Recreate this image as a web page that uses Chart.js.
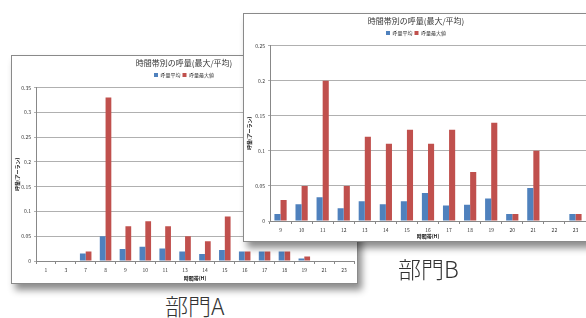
<!DOCTYPE html>
<html>
<head>
<meta charset="utf-8">
<script src="https://cdn.jsdelivr.net/npm/chart.js@4"></script>
<style>
  html, body { margin: 0; padding: 0; background: #fff; }
  body { width: 586px; height: 318px; position: relative; overflow: hidden;
         font-family: "Noto Sans CJK JP", "Noto Sans", sans-serif; }
  .panel { position: absolute; background: #fff; border: 1px solid #8a8a8a;
           box-shadow: 4px 6px 7px rgba(0,0,0,.45); }
  #panelA { left: 11px; top: 55px; width: 345px; height: 227px; }
  #panelB { left: 243px; top: 13px; width: 350px; height: 227px; }
  .panel canvas { display: block; }
  .caption { position: absolute; font-size: 23px; line-height: 1; color: #333; font-weight: 300; }
  #capA { left: 165px; top: 294px; }
  #capB { left: 398px; top: 257px; }
</style>
</head>
<body>
<div class="panel" id="panelA"><canvas id="chartA" width="345" height="227"></canvas></div>
<div class="panel" id="panelB"><canvas id="chartB" width="350" height="227"></canvas></div>
<div class="caption" id="capA">部門A</div>
<div class="caption" id="capB">部門B</div>
<script>
const title = '時間帯別の呼量(最大/平均)';
const seriesNames = ['呼量平均', '呼量最大値'];

// 部門A
const hoursA = ['1', '3', '7', '8', '9', '10', '11', '13', '14', '15', '16', '17', '18', '19', '21', '23'];
const avgA = [0, 0, 0.015, 0.05, 0.024, 0.029, 0.025, 0.019, 0.014, 0.022, 0.019, 0.019, 0.019, 0.005, 0, 0];
const maxA = [0, 0, 0.019, 0.33, 0.07, 0.08, 0.07, 0.05, 0.04, 0.09, 0.019, 0.019, 0.019, 0.009, 0, 0];

// 部門B
const hoursB = ['9', '10', '11', '12', '13', '14', '15', '16', '17', '18', '19', '20', '21', '22', '23'];
const avgB = [0.01, 0.024, 0.034, 0.018, 0.028, 0.024, 0.028, 0.04, 0.022, 0.023, 0.032, 0.01, 0.047, 0, 0.01];
const maxB = [0.03, 0.05, 0.2, 0.05, 0.12, 0.11, 0.13, 0.11, 0.13, 0.07, 0.14, 0.01, 0.1, 0, 0.01];

const BLUE = '#4f81bd', RED = '#c0504d';
const font = '"Noto Sans CJK JP", "Noto Sans", sans-serif';

function makeChart(id, labels, avg, max, yMax, yWidth, xHeight, padRight) {
  const ctx = document.getElementById(id).getContext('2d');
  return new Chart(ctx, {
    type: 'bar',
    data: {
      labels,
      datasets: [
        { label: seriesNames[0], data: avg, backgroundColor: BLUE },
        { label: seriesNames[1], data: max, backgroundColor: RED },
      ]
    },
    options: {
      responsive: false,
      animation: false,
      layout: { padding: { left: 2, right: padRight, top: 0, bottom: 1 } },
      datasets: { bar: { categoryPercentage: 0.58, barPercentage: 1.0 } },
      plugins: {
        title: {
          display: true, text: title, color: '#333',
          font: { family: font, size: 8, weight: 'normal' }, padding: { top: 2, bottom: 3 }
        },
        legend: {
          labels: { color: '#333', font: { family: font, size: 5 }, boxWidth: 4, boxHeight: 4, padding: 2 }
        },
        tooltip: { enabled: false }
      },
      scales: {
        x: {
          grid: { drawOnChartArea: false, drawTicks: true, tickLength: 3, color: '#888' },
          border: { color: '#888' },
          ticks: { color: '#333', font: { family: font, size: 5 }, padding: 3, maxRotation: 0, autoSkip: false },
          title: { display: true, text: '時間帯(H)', color: '#111', font: { family: font, size: 5, weight: 'bold' }, padding: 1 },
          afterFit: (s) => { s.height = xHeight; }
        },
        y: {
          min: 0, max: yMax,
          grid: { color: '#b0b0b0', drawTicks: true, tickLength: 2 },
          border: { color: '#888' },
          ticks: { stepSize: 0.05, color: '#333', font: { family: font, size: 5 }, padding: 3,
                   callback: (v) => +v.toFixed(2) },
          title: { display: true, text: '呼量(アーラン)', color: '#111', font: { family: font, size: 5, weight: 'bold' }, padding: 0 },
          afterFit: (s) => { s.width = yWidth; }
        }
      }
    }
  });
}

makeChart('chartA', hoursA, avgA, maxA, 0.35, 22, 21, 3);
makeChart('chartB', hoursB, avgB, maxB, 0.25, 24, 19, 8);
</script>
</body>
</html>
